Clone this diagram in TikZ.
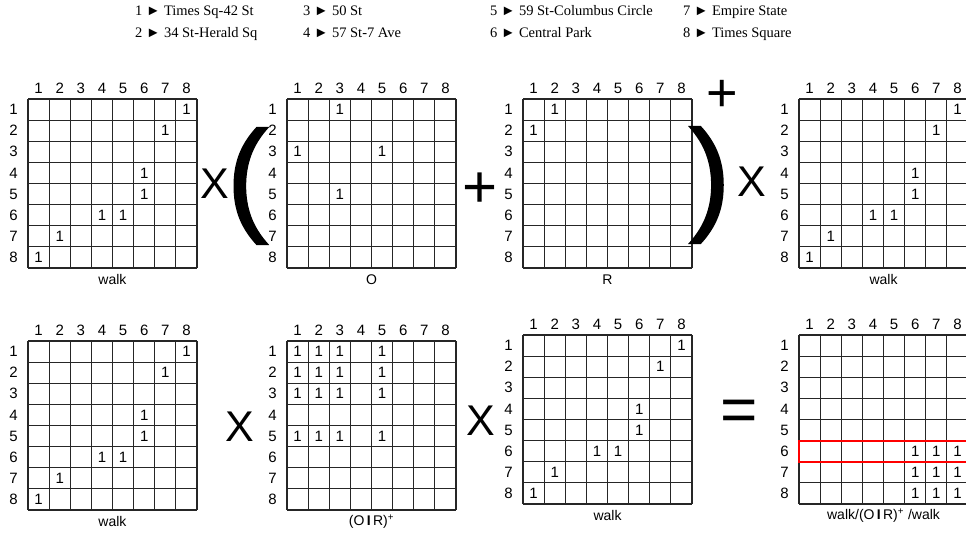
\documentclass[tikz,border=0pt]{standalone}
\usepackage{fontspec}
\setmainfont{Liberation Serif}
\setsansfont{Liberation Sans}
\newfontfamily\parenfont[FakeBold=1.3]{Liberation Sans}
\newlength{\cellsz}
\setlength{\cellsz}{21.125pt}
% \adjmat{name}{left}{top}{caption}{row/col of the ones}
\newcommand{\adjmat}[5]{%
  \begin{scope}[shift={(#2pt,-#3pt)},x=\cellsz,y=-\cellsz]
    \foreach \k in {0,...,8}{
      \draw[gridline] (\k,0) -- (\k,8);
      \draw[gridline] (0,\k) -- (8,\k);
    }
    \foreach \i in {1,...,8}{
      \node[idx] (#1-c\i) at (\i-0.5,-0.5) {\i};
      \node[idx] (#1-r\i) at (-0.68,\i-0.5) {\i};
    }
    \foreach \r/\c in {#5}{
      \node[entry] (#1-e\r\c) at (\c-0.5,\r-0.5) {1};
    }
    \node[matcap] (#1-cap) at (4,8.55) {#4};
  \end{scope}}
\begin{document}
\begin{tikzpicture}[x=1pt,y=-1pt]
          \tikzstyle{gridline}=[line width=1.1pt,black!85];
          \tikzstyle{idx}=[font=\sffamily\fontsize{15}{15}\selectfont,inner sep=0pt];
          \tikzstyle{entry}=[font=\sffamily\fontsize{15}{15}\selectfont,inner sep=0pt];
          \tikzstyle{matcap}=[font=\sffamily\fontsize{14}{14}\selectfont,inner sep=0pt];
          \tikzstyle{bigop}=[font=\sffamily\fontsize{43}{43}\selectfont,inner sep=0pt];
          \tikzstyle{plusop}=[font=\sffamily\fontsize{60}{60}\selectfont,inner sep=0pt];
          \tikzstyle{paren}=[font=\parenfont\fontsize{125}{125}\selectfont,inner sep=0pt];
          \tikzstyle{legend}=[font=\fontsize{14.5}{14.5}\selectfont,anchor=base west,inner sep=0pt];
          \tikzstyle{hilite}=[draw=red,line width=2pt];
          \useasboundingbox (0,0) rectangle (966,533);
          %legend of the stations
          \node[legend] (s1) at (135,15) {1 ► Times Sq-42 St};
          \node[legend] (s2) at (135,37) {2 ► 34 St-Herald Sq};
          \node[legend] (s3) at (303,15) {3 ► 50 St};
          \node[legend] (s4) at (303,37) {4 ► 57 St-7 Ave};
          \node[legend] (s5) at (490,15) {5 ► 59 St-Columbus Circle};
          \node[legend] (s6) at (490,37) {6 ► Central Park};
          \node[legend] (s7) at (683,15) {7 ► Empire State};
          \node[legend] (s8) at (683,37) {8 ► Times Square};
          %first line
          \adjmat{walkA}{28}{99}{walk}{1/8,2/7,4/6,5/6,6/4,6/5,7/2,8/1}
          \adjmat{occ}{287}{99}{O}{1/3,3/1,3/5,5/3}
          \adjmat{rev}{523}{99}{R}{1/2,2/1}
          \adjmat{walkB}{799}{99}{walk}{1/8,2/7,4/6,5/6,6/4,6/5,7/2,8/1}
          \node[bigop] (x1) at (215,184) {X};
          \node[paren] (lp) at (248,186) {\kern-0.06em(\kern-0.05em};
          \node[plusop] (p1) at (480,190) {+};
          \node[paren] (rp) at (708,185) {\kern-0.04em)\kern-0.07em};
          \node[plusop,font=\sffamily\fontsize{54}{54}\selectfont] (p2) at (722,96) {+};
          \node[bigop] (x2) at (752,182) {X};
          %second line
          \adjmat{walkC}{28}{341}{walk}{1/8,2/7,4/6,5/6,6/4,6/5,7/2,8/1}
          \adjmat{clos}{287}{341}{(O\,\textbf{I}\,R)\textsuperscript{+}}{1/1,1/2,1/3,1/5,2/1,2/2,2/3,2/5,3/1,3/2,3/3,3/5,5/1,5/2,5/3,5/5}
          \adjmat{walkD}{523}{335}{walk}{1/8,2/7,4/6,5/6,6/4,6/5,7/2,8/1}
          \adjmat{res}{799}{335}{walk/(O\,\textbf{I}\,R)\textsuperscript{+} /walk}{6/6,6/7,6/8,7/6,7/7,7/8,8/6,8/7,8/8}
          \node[bigop] (x3) at (240,427) {X};
          \node[bigop] (x4) at (481,421) {X};
          \node[plusop,font=\sffamily\fontsize{64}{64}\selectfont] (eq) at (739,416) {=};
          \draw[hilite] (799,440.6) rectangle (975,461.8);
      \end{tikzpicture}
\end{document}
